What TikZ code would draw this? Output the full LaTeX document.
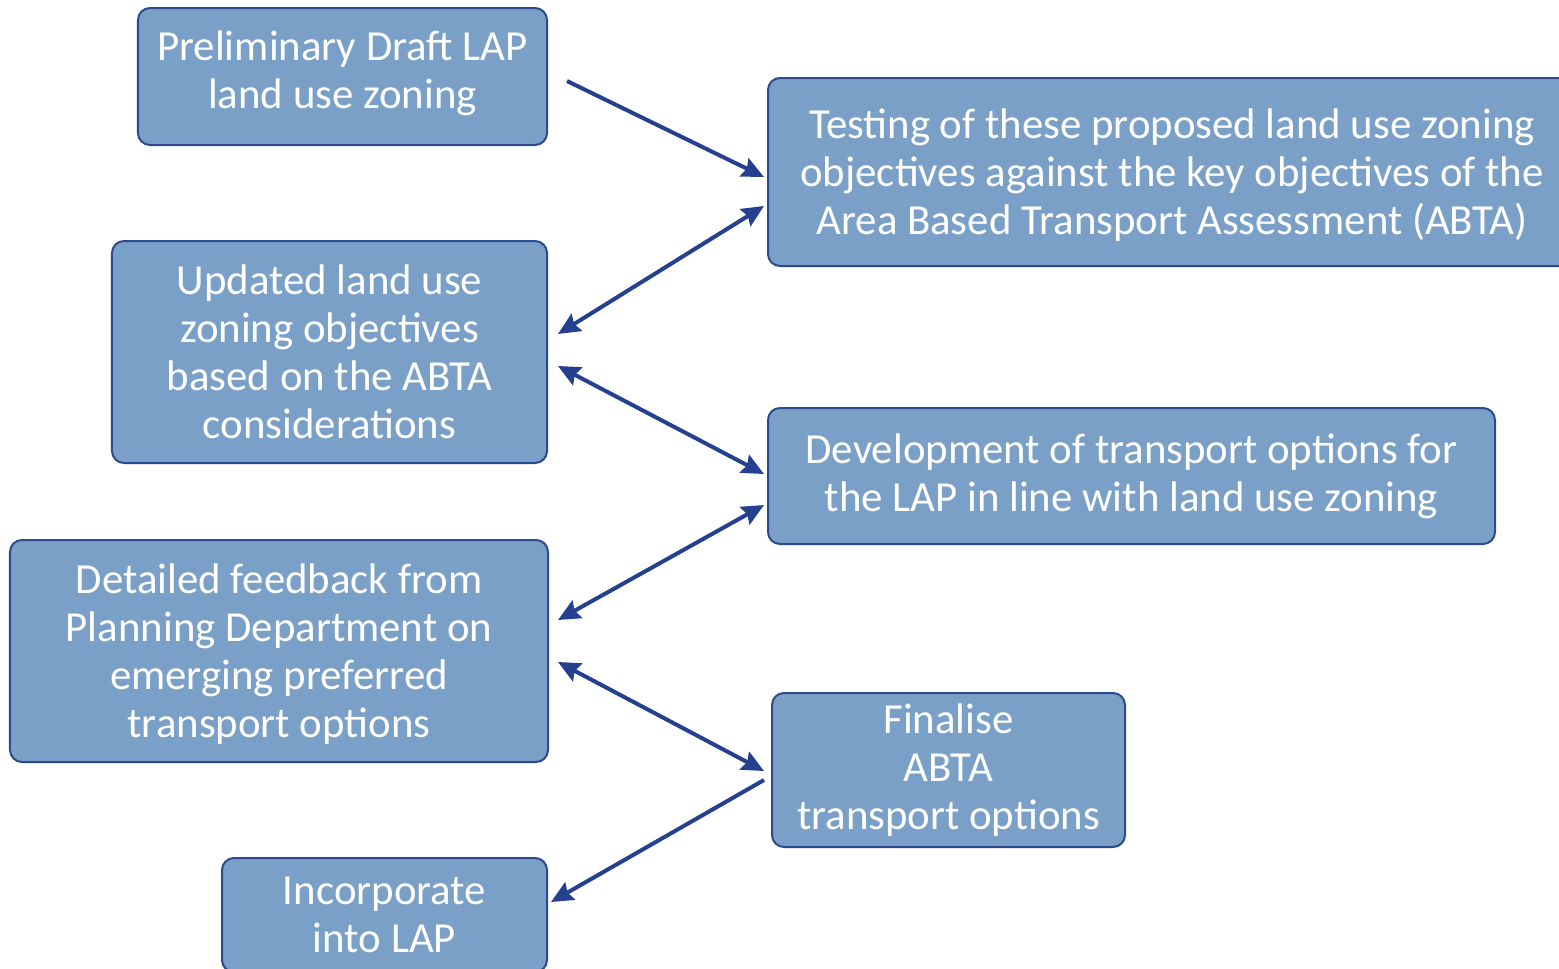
\documentclass[tikz,border=0pt]{standalone}
\usepackage{fontspec}
\setmainfont{Carlito}
\usetikzlibrary{arrows.meta,calc}
\definecolor{boxfill}{RGB}{122,160,200}
\definecolor{boxline}{RGB}{46,74,142}
\definecolor{arrcol}{RGB}{36,64,143}
\tikzset{
  flowbox/.style={draw=boxline, line width=2bp, fill=boxfill, rounded corners=12bp,
    text=white, align=center, inner sep=0pt,
    font=\fontsize{43}{48}\selectfont},
  boxtext/.style={text=white, align=center, inner sep=0pt,
    font=\fontsize{43}{48}\selectfont},
  arr/.style={draw=arrcol, line width=4bp, -{Stealth[length=22bp,width=20bp,inset=3bp]}},
  biarr/.style={draw=arrcol, line width=4bp, {Stealth[length=22bp,width=20bp,inset=3bp]}-{Stealth[length=22bp,width=20bp,inset=3bp]}}
}
\begin{document}
\begin{tikzpicture}[x=1bp,y=-1bp]
\useasboundingbox (0,0) rectangle (1559,968);
\clip (0,0) rectangle (1559,968);
\node[flowbox, minimum width=409bp, minimum height=137bp] (prelim) at (342.5,76.5) {};
\node[boxtext] (prelimt) at ([yshift=3bp]prelim.center)
  {Preliminary Draft LAP\\land use zoning};
\node[flowbox, minimum width=808bp, minimum height=188bp] (test) at (1172,172) {};
\node[boxtext] (testt) at ([yshift=-3bp]test.center)
  {Testing of these proposed land use zoning\\objectives against the key objectives of the\\Area Based Transport Assessment (ABTA)};
\node[flowbox, minimum width=435bp, minimum height=222bp] (upd) at (329.5,352)
  {Updated land use\\zoning objectives\\based on the ABTA\\considerations};
\node[flowbox, minimum width=727bp, minimum height=136bp] (dev) at (1131.5,476)
  {Development of transport options for\\the LAP in line with land use zoning};
\node[flowbox, minimum width=538bp, minimum height=222bp] (det) at (279,651) {};
\node[boxtext] (dett) at ([yshift=-3bp]det.center)
  {Detailed feedback from\\Planning Department on\\emerging preferred\\transport options};
\node[flowbox, minimum width=353bp, minimum height=154bp] (fin) at (948.5,770)
  {Finalise\\ABTA\\transport options};
\node[flowbox, minimum width=325bp, minimum height=114bp] (inc) at (384.5,915)
  {Incorporate\\into LAP};

\draw[arr] ($(prelim.east |- 0,81)+(19,0)$) -- ($(test.west |- 0,177)+(-3,0)$);
\draw[biarr] ($(upd.east |- 0,334)+(10,0)$) -- ($(test.west |- 0,206)+(-3,0)$);
\draw[biarr] ($(upd.east |- 0,366)+(10,0)$) -- ($(dev.west |- 0,474)+(-3,0)$);
\draw[biarr] ($(det.east |- 0,620)+(9,0)$) -- ($(dev.west |- 0,505)+(-3,0)$);
\draw[biarr] ($(det.east |- 0,662)+(9,0)$) -- ($(fin.west |- 0,771)+(-7,0)$);
\draw[arr] ($(fin.west |- 0,780)+(-7,0)$) -- ($(inc.east |- 0,902)+(3,0)$);
\end{tikzpicture}
\end{document}
